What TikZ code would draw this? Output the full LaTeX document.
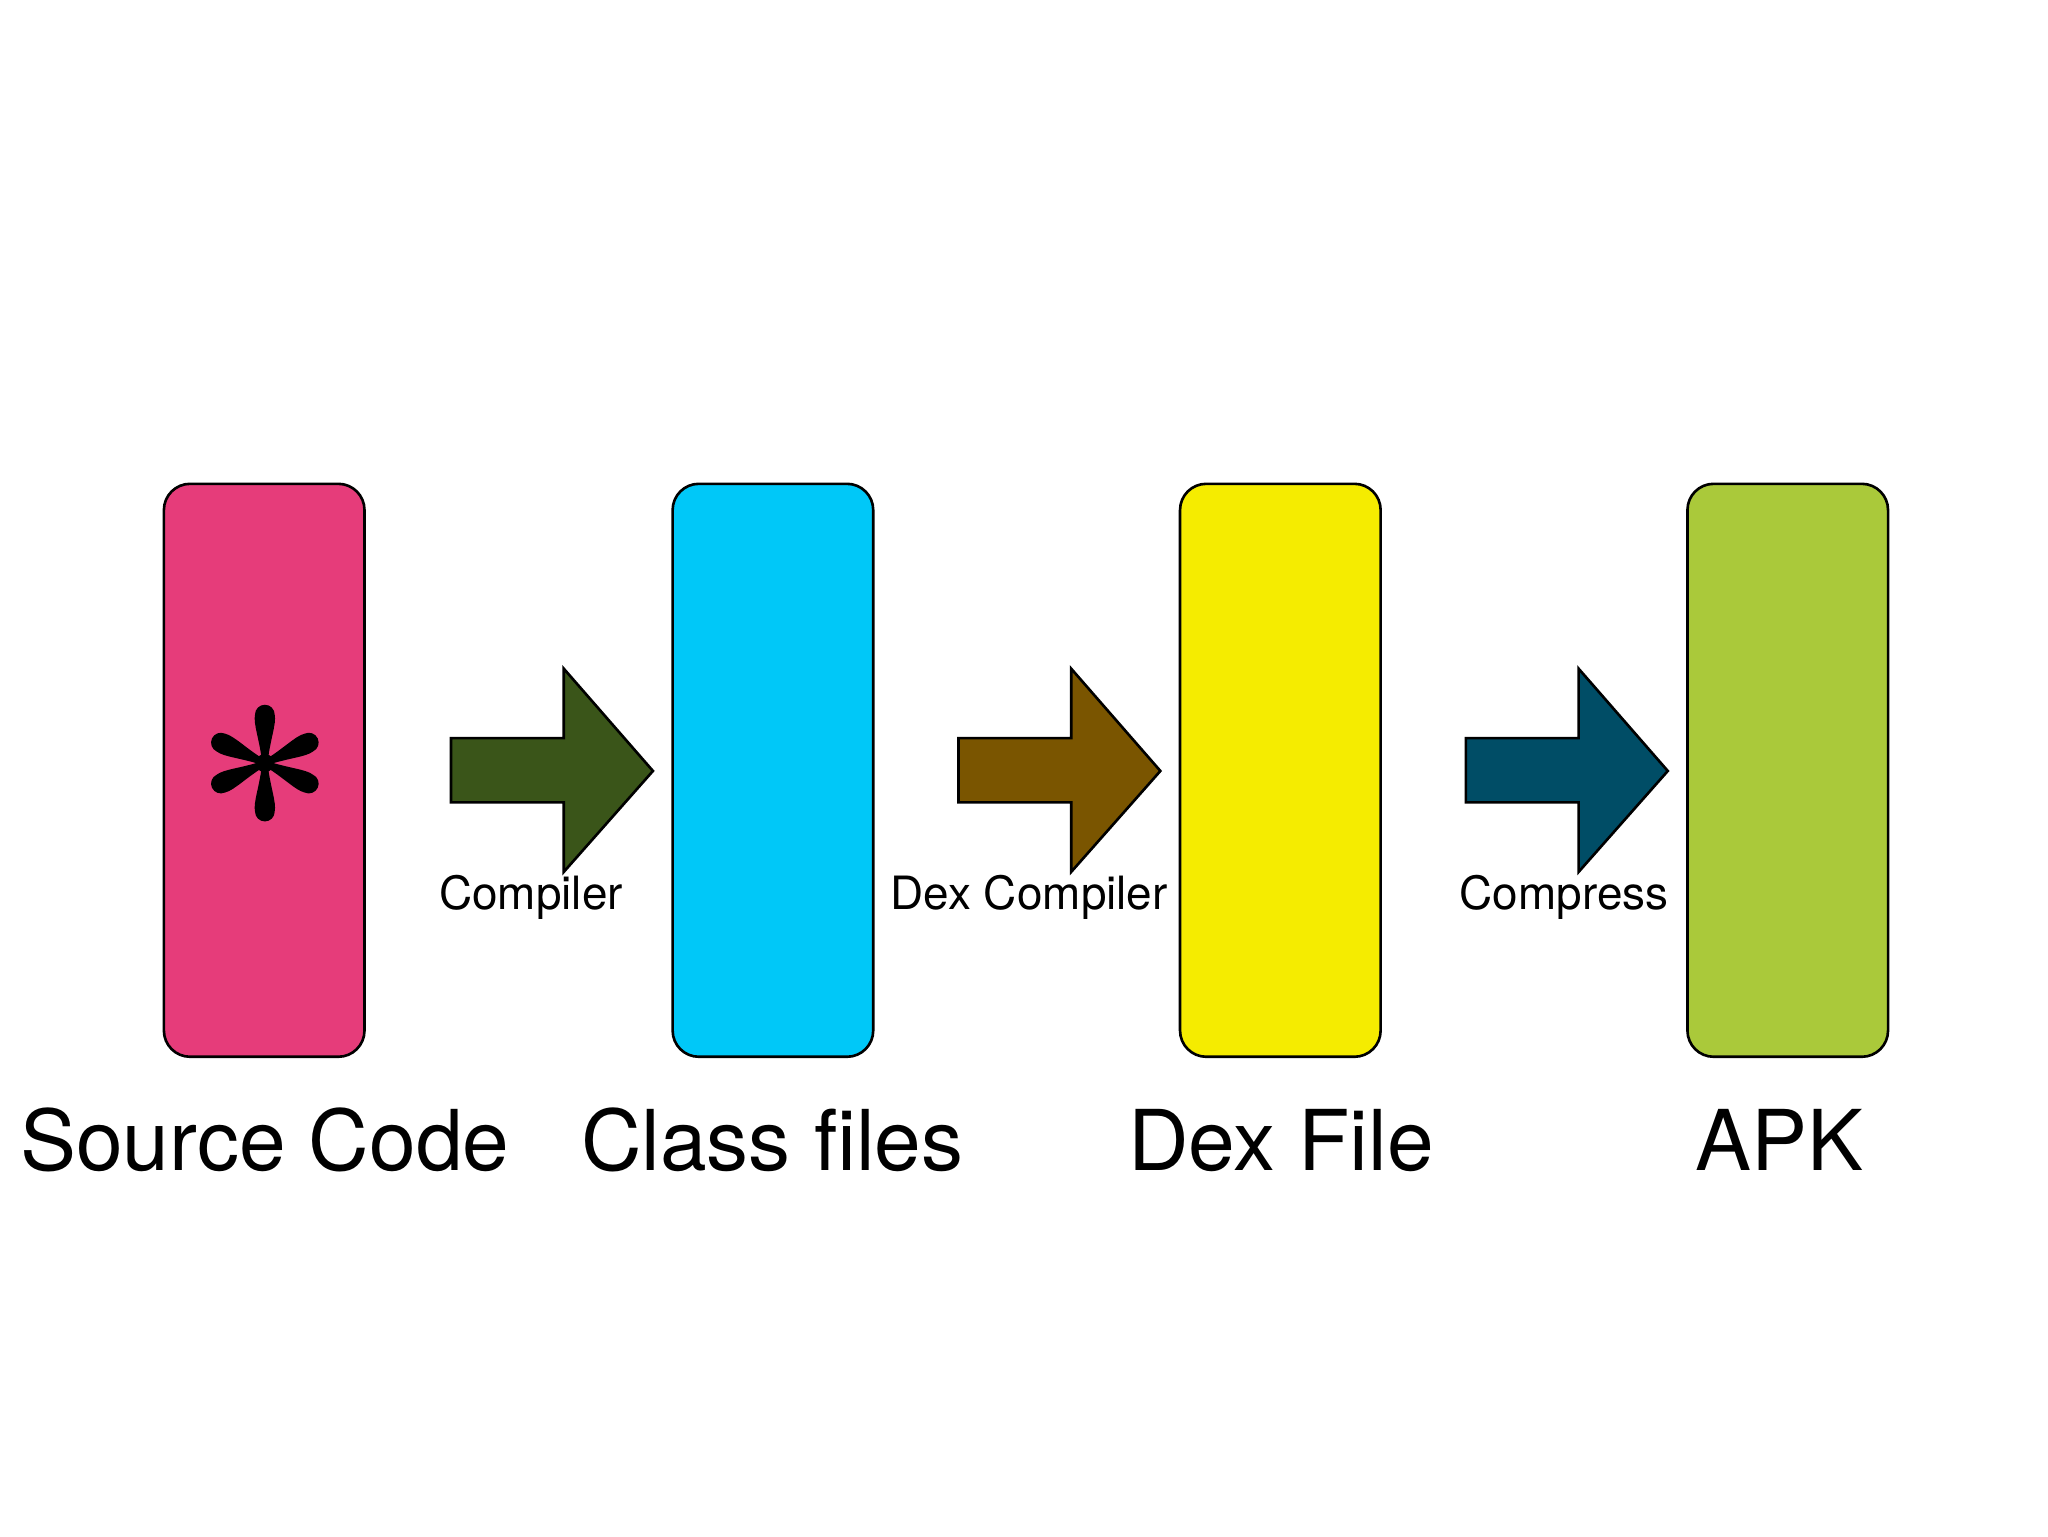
\documentclass[tikz,border=0pt]{standalone}
\usepackage{fontspec}
\setmainfont{TeX Gyre Heros}
\begin{document}
\begin{tikzpicture}[x=1pt,y=-1pt,
  box/.style={draw=black,line width=2pt,rounded corners=20pt},
  arr/.style={draw=black,line width=2pt,line join=miter},
  big/.style={font=\fontsize{64}{70}\selectfont,anchor=base},
  small/.style={font=\fontsize{35}{40}\selectfont,anchor=base}]
\useasboundingbox (0,0) rectangle (1562,1171.5);
\definecolor{cpink}{HTML}{E63C7A}
\definecolor{ccyan}{HTML}{00C8F8}
\definecolor{cyel}{HTML}{F5EC00}
\definecolor{cgreen}{HTML}{AAC93A}
\definecolor{ca1}{HTML}{3A5519}
\definecolor{ca2}{HTML}{7A5500}
\definecolor{ca3}{HTML}{004D66}
\foreach \n/\x/\c in {b1/125/cpink,b2/513/ccyan,b3/900/cyel,b4/1287/cgreen}{
  \draw[box,fill=\c] (\x,369) rectangle (\x+153,806);
  \coordinate (\n) at (\x+76.5,582);
}
\foreach \n/\x/\c in {a1/344/ca1,a2/731/ca2,a3/1118/ca3}{
  \draw[arr,fill=\c] (\x,563) -- (\x+86,563) -- (\x+86,510) -- (\x+154,588) -- (\x+86,665) -- (\x+86,612) -- (\x,612) -- cycle;
}
\node[small] (l1) at (405,694) {Compiler};
\node[small] (l2) at (785,694) {Dex Compiler};
\node[small] (l3) at (1193,694) {Compress};
\node[big] (t1) at (202,893) {Source Code};
\node[big] (t2) at (589,893) {Class files};
\node[big] (t3) at (977,893) {Dex File};
\node[big] (t4) at (1357,893) {APK};
\begin{scope}[shift={(202,582)}]
\fill (0,0) circle (7);
\foreach \a in {90,270,155,205,25,-25}{
  \begin{scope}[rotate=\a]
   \fill (0,-2) .. controls (18,-4) and (30,-9) .. (37,-7.5)
     arc (-90:90:7.5) .. controls (30,9) and (18,4) .. (0,2) -- cycle;
  \end{scope}
}
\end{scope}
\end{tikzpicture}
\end{document}
